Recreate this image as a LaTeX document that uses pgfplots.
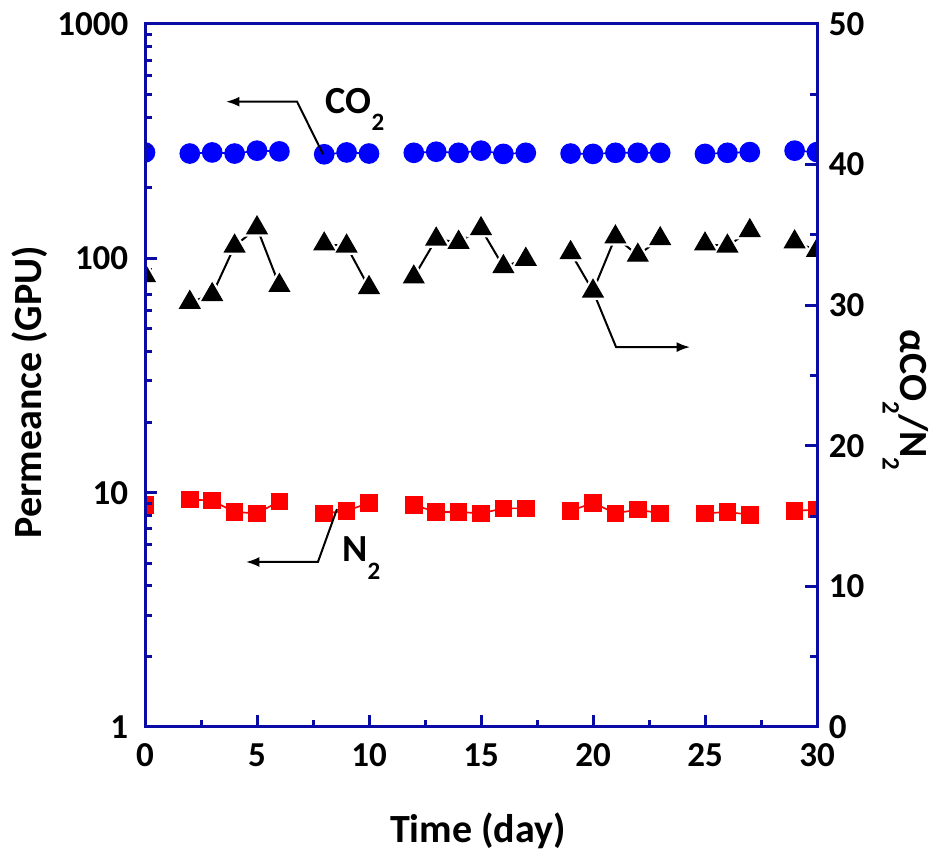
\documentclass[border=0pt]{standalone}
\usepackage{fontspec}
\setmainfont{Carlito}
\usepackage{pgfplots}
\pgfplotsset{compat=1.18}
\usepackage{pgfplotstable}
\usetikzlibrary{arrows.meta}

\definecolor{frameblue}{RGB}{10,10,165}
\definecolor{ptblue}{RGB}{0,0,255}
\definecolor{ptred}{RGB}{255,0,0}

% lowered subscript, as in the original figure
\newcommand{\sub}[1]{\raisebox{-0.45em}{\fontsize{7.5}{8}\selectfont #1}}

% day, CO2 and N2 permeance (GPU), CO2/N2 selectivity
\pgfplotstableread{
day co2 n2 sel
0 283 8.86 32.1
1 nan nan nan
2 280 9.35 30.2
3 283 9.25 30.75
4 280 8.27 34.2
5 288 8.16 35.5
6 286 9.18 31.4
7 nan nan nan
8 278 8.16 34.35
9 283 8.36 34.2
10 280 9.05 31.25
11 nan nan nan
12 282 8.86 32.0
13 285 8.27 34.7
14 282 8.27 34.47
15 288 8.16 35.44
16 279 8.57 32.74
17 282 8.57 33.26
18 nan nan nan
19 280 8.36 33.74
20 279 9.05 31.0
21 282 8.16 34.85
22 282 8.47 33.55
23 282 8.16 34.73
24 nan nan nan
25 279 8.16 34.35
26 282 8.27 34.2
27 284 8.05 35.3
28 nan nan nan
29 288 8.36 34.5
30 284 8.47 33.9
}\datatable

\pgfplotsset{
  common/.style={
    scale only axis,
    width=201.6pt, height=210.9pt,
    xmin=0, xmax=30,
    tick align=inside,
    major tick length=3.6pt, minor tick length=2.1pt,
    axis line style={frameblue, line width=0.9pt},
    tick style={frameblue, line width=0.9pt},
    ticklabel style={font=\fontsize{10.5}{12}\selectfont\bfseries},
    /pgf/number format/assume math mode=true,
    unbounded coords=jump,
    clip marker paths=true,
    axis on top,
  },
}

\begin{document}
\begin{tikzpicture}
\begin{axis}[
  common,
  name=ax,
  ymode=log, ymin=1, ymax=1000,
  xtick={0,5,...,30}, minor xtick={2.5,7.5,...,27.5},
  ytick={1,10,100,1000}, yticklabels={1,10,100,1000},
  minor ytick={2,3,...,9,20,30,...,90,200,300,...,900},
  xtick pos=bottom, ytick pos=left,
  xticklabel style={yshift=-1.5pt},
  yticklabel style={xshift=-1.5pt},
  xlabel={Time (day)},
  ylabel={Permeance (GPU)},
  every axis x label/.style={at={(axis description cs:0.4955,-0.148)}, anchor=center,
    font=\fontsize{12}{14}\selectfont\bfseries},
  every axis y label/.style={at={(axis description cs:-0.171,0.4765)}, rotate=90, anchor=center,
    font=\fontsize{12}{14}\selectfont\bfseries},
]
\addplot[ptblue, line width=0.5pt, mark=*, mark size=2.85pt, mark options={fill=ptblue, draw=ptblue}]
  table[x=day, y=co2] {\datatable};
\addplot[ptred, line width=0.5pt, mark=square*, mark size=2.4pt, mark options={fill=ptred, draw=ptred}]
  table[x=day, y=n2] {\datatable};

\draw[black, line width=0.6pt, -{Latex[length=4pt,width=3pt]}]
  (axis cs:7.95,278) -- (axis cs:6.79,466) -- (axis cs:3.62,466);
\node[anchor=base west, inner sep=0pt, font=\fontsize{11.5}{13}\selectfont\bfseries]
  at (axis cs:8.04,416) {CO\sub{2}};

\draw[black, line width=0.6pt, -{Latex[length=4pt,width=3pt]}]
  (axis cs:8.57,8.51) -- (axis cs:7.72,5.06) -- (axis cs:4.51,5.06);
\node[anchor=base west, inner sep=0pt, font=\fontsize{11.5}{13}\selectfont\bfseries]
  at (axis cs:8.78,5.07) {N\sub{2}};

\draw[black, line width=0.6pt, -{Latex[length=4pt,width=3pt]}]
  (axis cs:20,72.5) -- (axis cs:21.03,41.8) -- (axis cs:24.33,41.8);
\end{axis}

\begin{axis}[
  common,
  ymin=0, ymax=50,
  axis x line=none, axis y line*=right,
  ytick={0,10,...,50}, minor ytick={5,15,...,45},
  ylabel={αCO\sub{2}/N\sub{2}},
  every axis y label/.style={at={(axis description cs:1.132,0.465)}, rotate=-90, anchor=center,
    font=\fontsize{12}{14}\selectfont\bfseries},
]
\addplot[black, line width=0.6pt, mark=none] table[x=day, y=sel] {\datatable};
\addplot[only marks, mark=triangle*, mark size=4.8pt, mark options={fill=white, draw=white}]
  table[x=day, y=sel] {\datatable};
\addplot[only marks, mark=triangle*, mark size=3.45pt, mark options={fill=black, draw=black}]
  table[x=day, y=sel] {\datatable};
\end{axis}

\draw[frameblue, line width=0.9pt] (ax.south west) -- (ax.north west);

\pgfresetboundingbox
\path ([shift={(-43.5pt,-37.8pt)}]ax.south west) rectangle ([shift={(35.1pt,7.2pt)}]ax.north east);
\end{tikzpicture}
\end{document}
